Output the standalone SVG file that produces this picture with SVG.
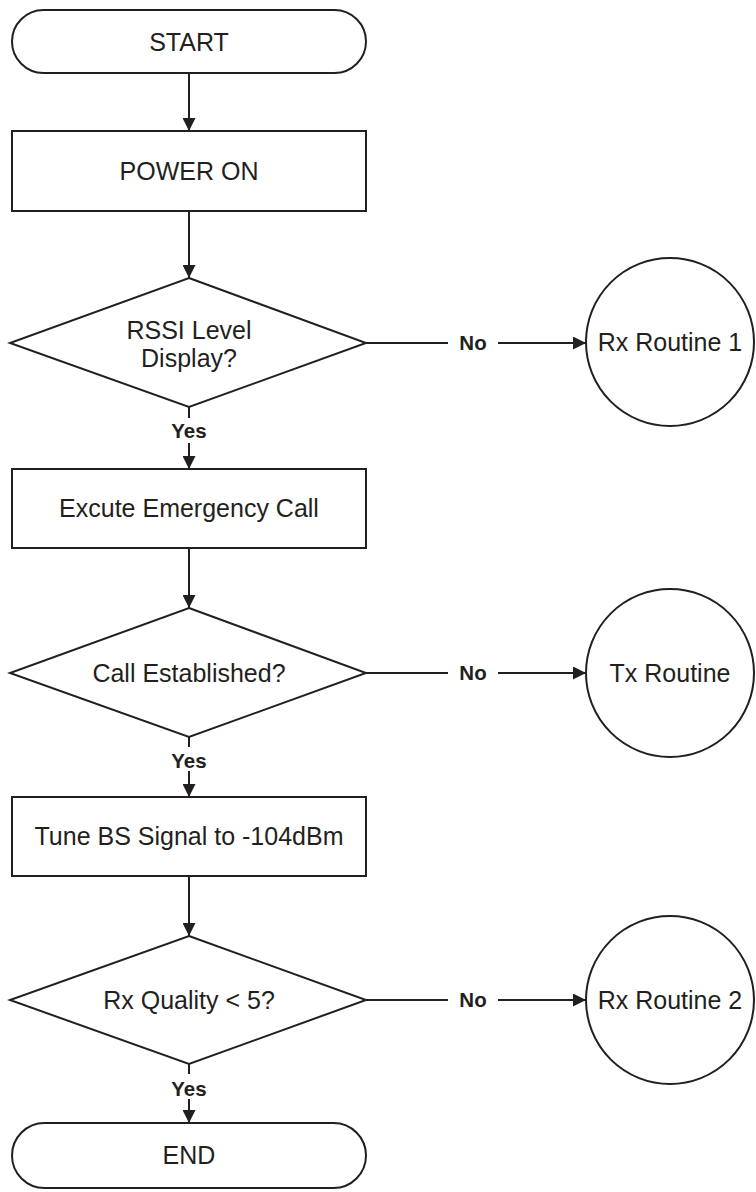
<svg xmlns="http://www.w3.org/2000/svg" width="756" height="1192" viewBox="0 0 756 1192">
<defs>
<marker id="arr" viewBox="0 0 13 13" refX="13" refY="6.5" markerWidth="13" markerHeight="13" markerUnits="userSpaceOnUse" orient="auto">
<path d="M0,0 L13,6.5 L0,13 Z" fill="#231f20"/>
</marker>
<style>
.s{fill:#fff;stroke:#231f20;stroke-width:2}
.t{font-family:"Liberation Sans",Arial,Helvetica,sans-serif;font-size:25px;fill:#231f20;text-anchor:middle}
.l{font-family:"Liberation Sans",Arial,Helvetica,sans-serif;font-size:20.5px;font-weight:bold;fill:#231f20;text-anchor:middle}
.c{fill:none;stroke:#231f20;stroke-width:2}
</style>
</defs>
<rect width="756" height="1192" fill="#fff"/>
<g id="connectors">
<line class="c" x1="189" y1="73" x2="189" y2="131" marker-end="url(#arr)"/>
<line class="c" x1="189" y1="211" x2="189" y2="278" marker-end="url(#arr)"/>
<line class="c" x1="189" y1="407" x2="189" y2="418"/>
<line class="c" x1="189" y1="443" x2="189" y2="469" marker-end="url(#arr)"/>
<line class="c" x1="366" y1="343" x2="448" y2="343"/>
<line class="c" x1="498" y1="343" x2="586" y2="343" marker-end="url(#arr)"/>
<line class="c" x1="189" y1="548" x2="189" y2="608" marker-end="url(#arr)"/>
<line class="c" x1="189" y1="737" x2="189" y2="747"/>
<line class="c" x1="189" y1="771" x2="189" y2="797" marker-end="url(#arr)"/>
<line class="c" x1="366" y1="673" x2="448" y2="673"/>
<line class="c" x1="498" y1="673" x2="586" y2="673" marker-end="url(#arr)"/>
<line class="c" x1="189" y1="876" x2="189" y2="936" marker-end="url(#arr)"/>
<line class="c" x1="189" y1="1064" x2="189" y2="1074"/>
<line class="c" x1="189" y1="1099" x2="189" y2="1123" marker-end="url(#arr)"/>
<line class="c" x1="366" y1="1000" x2="448" y2="1000"/>
<line class="c" x1="498" y1="1000" x2="586" y2="1000" marker-end="url(#arr)"/>
<text class="l" x="189" y="438">Yes</text>
<text class="l" x="473" y="350">No</text>
<text class="l" x="189" y="768">Yes</text>
<text class="l" x="473" y="680">No</text>
<text class="l" x="189" y="1096">Yes</text>
<text class="l" x="473" y="1007">No</text>
</g>
<g id="start">
<rect class="s" x="12" y="10" width="354" height="63" rx="31.5" ry="31.5"/>
<text class="t" x="189" y="51">START</text>
</g>
<g id="power-on">
<rect class="s" x="12" y="131" width="354" height="80"/>
<text class="t" x="189" y="180">POWER ON</text>
</g>
<g id="rssi">
<polygon class="s" points="189,278 366,343 189,407 10,343"/>
<text class="t" x="189" y="339">RSSI Level</text>
<text class="t" x="189" y="367">Display?</text>
</g>
<g id="rx1">
<circle class="s" cx="670" cy="342" r="84"/>
<text class="t" x="670" y="351">Rx Routine 1</text>
</g>
<g id="emergency">
<rect class="s" x="12" y="469" width="354" height="79"/>
<text class="t" x="189" y="517">Excute Emergency Call</text>
</g>
<g id="established">
<polygon class="s" points="189,608 366,673 189,737 10,673"/>
<text class="t" x="189" y="682">Call Established?</text>
</g>
<g id="tx">
<circle class="s" cx="670" cy="673" r="84"/>
<text class="t" x="670" y="682">Tx Routine</text>
</g>
<g id="tune">
<rect class="s" x="12" y="797" width="354" height="79"/>
<text class="t" x="189" y="845">Tune BS Signal to -104dBm</text>
</g>
<g id="quality">
<polygon class="s" points="189,936 366,1000 189,1064 10,1000"/>
<text class="t" x="189" y="1009">Rx Quality &lt; 5?</text>
</g>
<g id="rx2">
<circle class="s" cx="670" cy="1000" r="84"/>
<text class="t" x="670" y="1009">Rx Routine 2</text>
</g>
<g id="end">
<rect class="s" x="12" y="1123" width="354" height="65" rx="32.5" ry="32.5"/>
<text class="t" x="189" y="1164">END</text>
</g>
</svg>
